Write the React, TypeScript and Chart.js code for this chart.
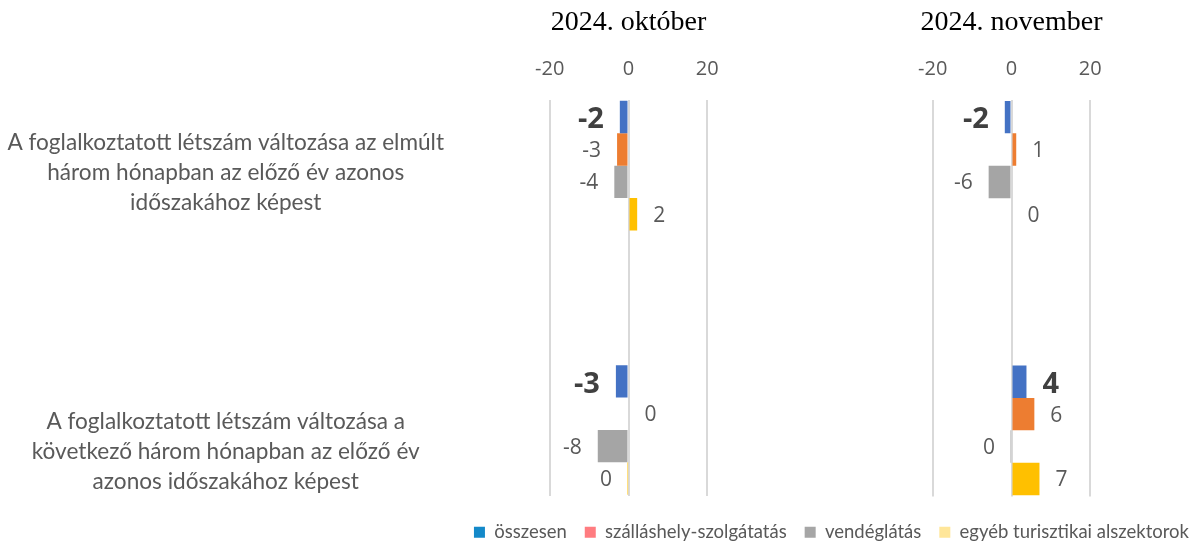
import React, { useEffect, useRef } from 'react';
import { Chart, registerables } from 'chart.js';

Chart.register(...registerables);

// ---- data ----
const categories: string[][] = [
  ['A foglalkoztatott létszám változása az elmúlt', 'három hónapban az előző év azonos', 'időszakához képest'],
  ['A foglalkoztatott létszám változása a', 'következő három hónapban az előző év', 'azonos időszakához képest'],
];
const seriesNames = ['összesen', 'szálláshely-szolgátatás', 'vendéglátás', 'egyéb turisztikai alszektorok'];
const panelTitles = ['2024. október', '2024. november'];
const xTickValues = [-20, 0, 20];

const octOsszesen = [-2.2, -3.2];
const octSzallashely = [-2.9, 0];
const octVendeglatas = [-3.6, -7.8];
const octEgyeb = [2.2, -0.1];

const novOsszesen = [-1.7, 3.8];
const novSzallashely = [1.2, 5.8];
const novVendeglatas = [-5.8, -0.1];
const novEgyeb = [0, 7.1];

// ---- styles ----
const barColors = ['#4472C4', '#ED7D31', '#A5A5A5', '#FFC000'];
const legendColors = ['#1489C9', '#FF7C80', '#A6A6A6', '#FFE699'];
const textGray = '#595959';

const fmt = (v: number) => {
  const r = Math.round(Math.abs(v));
  return (v < 0 && r !== 0 ? '-' : '') + String(r);
};

const valueLabels = {
  id: 'valueLabels',
  afterDatasetsDraw(chart: any) {
    const { ctx } = chart;
    ctx.save();
    chart.data.datasets.forEach((ds: any, di: number) => {
      const meta = chart.getDatasetMeta(di);
      const first = di === 0;
      ctx.font = first ? 'bold 29px "Open Sans"' : '21px "Open Sans"';
      ctx.fillStyle = first ? '#404040' : textGray;
      ctx.textBaseline = 'middle';
      meta.data.forEach((el: any, i: number) => {
        const v = ds.data[i].x;
        const neg = v < 0;
        ctx.textAlign = neg ? 'right' : 'left';
        ctx.fillText(fmt(v), el.x + (neg ? -16 : 16), el.y + (first ? 3 : 1.5));
      });
    });
    ctx.restore();
  },
};

const makeDatasets = (series: number[][]) =>
  series.map((vals, k) => ({
    label: seriesNames[k],
    data: vals.map((v, i) => ({ x: v, y: i })),
    backgroundColor: barColors[k],
    borderWidth: 0,
    inflateAmount: 0,
    barThickness: 32.4,
    xAxisID: 'x',
    yAxisID: 'y',
  }));

const xAxis = (title: string) => ({
  type: 'linear',
  position: 'top',
  min: -25,
  max: 25,
  z: 1,
  afterBuildTicks: (s: any) => {
    s.ticks = xTickValues.map((value) => ({ value }));
  },
  ticks: { padding: 18, color: textGray, font: { family: 'Open Sans', size: 20 } },
  grid: { color: '#D9D9D9', lineWidth: 2, drawTicks: false },
  border: { display: false },
  title: {
    display: true,
    text: title,
    color: '#000000',
    font: { family: 'Liberation Serif', size: 28 },
    padding: { top: 6, bottom: 0 },
  },
});

const hiddenBox = { display: false };
const noGrid = { display: false, drawTicks: false };

export default function App() {
  const leftRef = useRef<HTMLCanvasElement>(null);
  const rightRef = useRef<HTMLCanvasElement>(null);

  useEffect(() => {
    const left = new Chart(leftRef.current as HTMLCanvasElement, {
      type: 'bar',
      data: { datasets: makeDatasets([octOsszesen, octSzallashely, octVendeglatas, octEgyeb]) as any },
      options: {
        indexAxis: 'y',
        responsive: false,
        maintainAspectRatio: false,
        animation: false,
        layout: { padding: { left: 0, right: 471, top: 0, bottom: 47 } },
        plugins: { legend: { display: false }, tooltip: { enabled: false } },
        scales: {
          x: xAxis(panelTitles[0]) as any,
          y: { type: 'linear', display: false, offset: false, reverse: true, min: -0.25, max: 1.25 },
          yText: {
            type: 'linear',
            position: 'left',
            offset: false,
            reverse: true,
            min: -0.2616,
            max: 1.1577,
            afterBuildTicks: (s: any) => {
              s.ticks = categories.map((_, i) => ({ value: i }));
            },
            ticks: {
              autoSkip: false,
              callback: (v: any) => categories[v] ?? '',
              crossAlign: 'center',
              padding: 86,
              color: textGray,
              font: { family: 'Lato', size: 22.6, lineHeight: 1.32 },
            },
            grid: noGrid,
            border: hiddenBox,
            afterFit: (s: any) => {
              s.width = 530;
              s.paddingTop = 0;
              s.paddingBottom = 0;
            },
          } as any,
        },
      },
      plugins: [valueLabels],
    });

    const right = new Chart(rightRef.current as HTMLCanvasElement, {
      type: 'bar',
      data: { datasets: makeDatasets([novOsszesen, novSzallashely, novVendeglatas, novEgyeb]) as any },
      options: {
        indexAxis: 'y',
        responsive: false,
        maintainAspectRatio: false,
        animation: false,
        layout: { padding: { left: 0, right: -9, top: 0, bottom: -8.5 } },
        plugins: {
          tooltip: { enabled: false },
          legend: {
            display: true,
            position: 'bottom',
            align: 'end',
            labels: {
              boxWidth: 11,
              boxHeight: 11,
              padding: 18,
              color: textGray,
              font: { family: 'Lato', size: 18.5 },
              generateLabels: () =>
                seriesNames.map((name, k) => ({
                  text: name,
                  fillStyle: legendColors[k],
                  strokeStyle: legendColors[k],
                  fontColor: textGray,
                  lineWidth: 0,
                  hidden: false,
                  datasetIndex: k,
                })),
            },
          },
        },
        scales: {
          x: xAxis(panelTitles[1]) as any,
          xB: {
            type: 'linear',
            position: 'bottom',
            ticks: { display: false },
            grid: noGrid,
            border: hiddenBox,
            afterFit: (s: any) => {
              s.height = 8.5;
            },
          } as any,
          y: {
            type: 'linear',
            position: 'left',
            offset: false,
            reverse: true,
            min: -0.25,
            max: 1.25,
            ticks: { display: false },
            grid: noGrid,
            border: hiddenBox,
            afterFit: (s: any) => {
              s.width = 913;
            },
          } as any,
          yR: {
            type: 'linear',
            position: 'right',
            offset: false,
            ticks: { display: false },
            grid: noGrid,
            border: hiddenBox,
            afterFit: (s: any) => {
              s.width = 97;
            },
          } as any,
        },
      },
      plugins: [valueLabels],
    });

    return () => {
      left.destroy();
      right.destroy();
    };
  }, []);

  return (
    <div style={{ position: 'absolute', left: 0, top: 0, width: 1198, height: 543, background: '#ffffff' }}>
      <canvas ref={leftRef} width={1198} height={543} style={{ position: 'absolute', left: 0, top: 0 }} />
      <canvas ref={rightRef} width={1198} height={543} style={{ position: 'absolute', left: 0, top: 0 }} />
    </div>
  );
}
